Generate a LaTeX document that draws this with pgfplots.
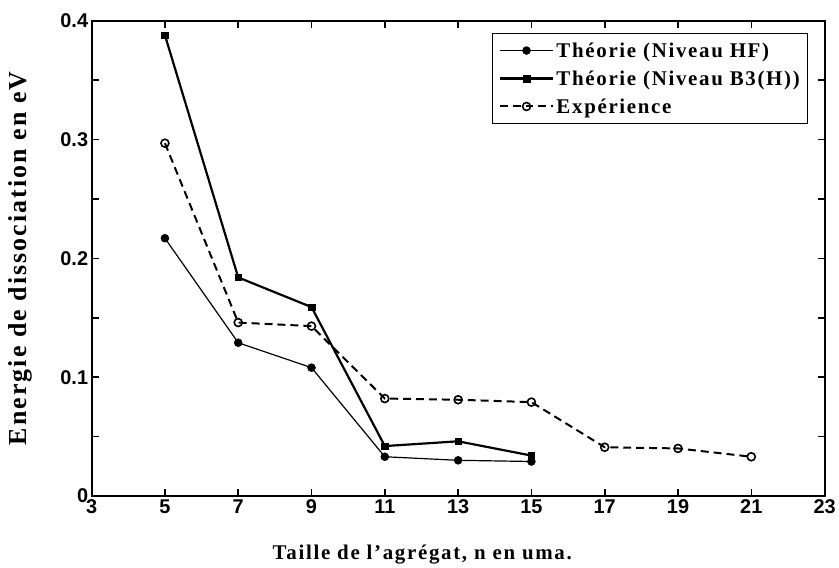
\documentclass[border=0pt]{standalone}
\usepackage{pgfplots}
\pgfplotsset{compat=1.18}
\usepackage{fontspec}
\setmainfont{Liberation Serif}
\newfontfamily\spaced{Liberation Serif}[LetterSpace=8]
\newfontfamily\ticksf{Liberation Sans}

\begin{document}
\begin{tikzpicture}[x=1pt,y=1pt]

  \begin{axis}[
    scale only axis,
    width=736pt,
    height=477pt,
    xmin=3, xmax=23,
    ymin=0, ymax=0.4,
    xtick={3,5,...,23},
    ytick={0,0.05,...,0.4},
    yticklabels={0,,0.1,,0.2,,0.3,,0.4},
    tick align=inside,
    major tick length=7pt,
    axis line style={line width=2pt},
    every tick/.style={black, line width=1.6pt},
    tick label style={font=\fontsize{20}{22}\ticksf\bfseries},
    /pgf/number format/assume math mode=true,
    /pgf/number format/fixed,
    xlabel={\fontsize{21}{23}\spaced\bfseries Taille de l’agrégat, n en uma.},
    ylabel={\fontsize{26}{28}\spaced\bfseries Energie de dissociation en eV},
    every axis x label/.style={at={(rel axis cs:0.5,0)}, anchor=center, xshift=-36pt, yshift=-59pt},
    every axis y label/.style={at={(rel axis cs:0,0.5)}, anchor=center, xshift=-72pt, rotate=90},
    legend style={
      at={(rel axis cs:0.978,0.975)}, anchor=north east,
      draw=black, line width=1.6pt,
      font=\fontsize{21}{23}\spaced\bfseries,
      inner xsep=6pt, inner ysep=7pt,
      row sep=8pt,
      legend cell align=left,
    },
    legend image code/.code={
      \draw[#1] (0pt,0pt) -- (27pt,0pt) -- (54pt,0pt);
      \draw[#1, solid] plot coordinates {(27pt,0pt)};
    },
    clip=false,
  ]

  \path (rel axis cs:-0.125,-0.149) rectangle (rel axis cs:1.015,1.044);

  \addplot[black, line width=1.2pt, mark=*, mark size=4pt,
           mark options={solid, fill=black, line width=0.5pt}] coordinates {
    (5,0.217) (7,0.129) (9,0.108) (11,0.033) (13,0.030) (15,0.029)
  };
  \addlegendentry{Théorie (Niveau HF)}

  \addplot[black, line width=2.2pt, mark=square*, mark size=3.3pt,
           mark options={solid, fill=black, line width=0.5pt}] coordinates {
    (5,0.388) (7,0.184) (9,0.159) (11,0.042) (13,0.046) (15,0.034)
  };
  \addlegendentry{Théorie (Niveau B3(H))}

  \addplot[black, line width=2pt, dash pattern=on 8pt off 5pt, mark=o, mark size=4pt,
           mark options={solid, fill=white, line width=1.6pt}] coordinates {
    (5,0.297) (7,0.146) (9,0.143) (11,0.082) (13,0.081) (15,0.079)
    (17,0.041) (19,0.040) (21,0.033)
  };
  \addlegendentry{Expérience}

  \end{axis}

\end{tikzpicture}
\end{document}
